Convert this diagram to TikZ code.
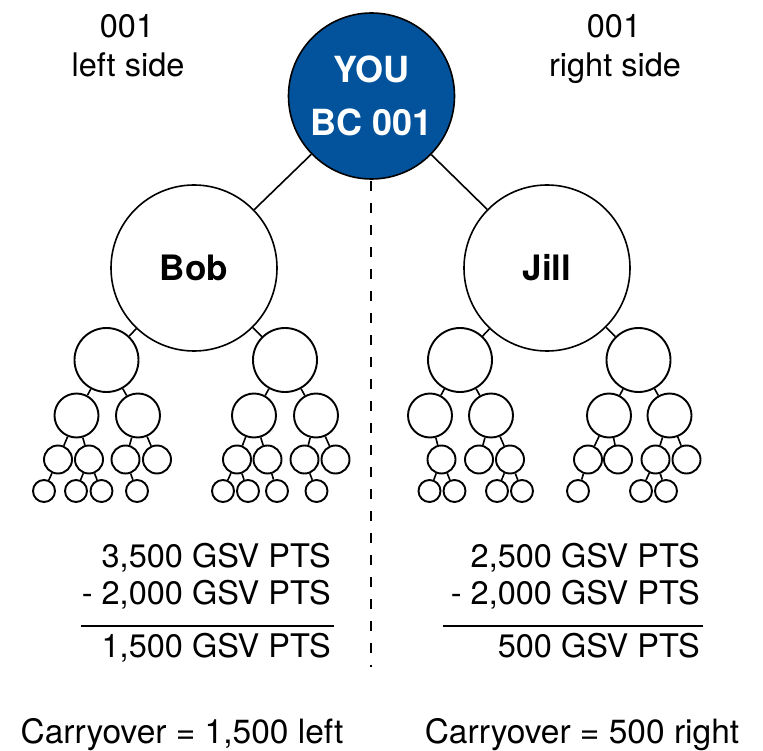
\documentclass[tikz,border=0pt]{standalone}
\usepackage{fontspec}
\setmainfont{TeX Gyre Heros}
\definecolor{youblue}{RGB}{2,83,155}
\begin{document}
\begin{tikzpicture}[x=1pt,y=-1pt,
  lbl/.style={inner sep=0pt,font=\fontsize{32.5}{36}\selectfont},
  big/.style={circle,draw=black,line width=1.6pt,minimum size=166pt,inner sep=0pt,fill=white,font=\fontsize{35}{40}\selectfont\bfseries},
  youc/.style={big,fill=youblue,text=white,align=center,font=\fontsize{36}{53}\selectfont\bfseries},
  c2/.style={circle,draw=black,line width=1.9pt,minimum size=64pt,inner sep=0pt},
  c3/.style={circle,draw=black,line width=1.9pt,minimum size=44pt,inner sep=0pt},
  c4/.style={circle,draw=black,line width=1.9pt,minimum size=28pt,inner sep=0pt},
  c5/.style={circle,draw=black,line width=1.9pt,minimum size=22pt,inner sep=0pt},
  link/.style={line width=1.6pt},
  sep/.style={line width=1.8pt,dash pattern=on 10pt off 12pt},
  rule/.style={line width=1.4pt}]
\useasboundingbox (0,0) rectangle (763,751);

% top labels
\node[lbl,anchor=base] (l001) at (127,38) {001};
\node[lbl,anchor=base] (lside) at (128,77) {left side};
\node[lbl,anchor=base] (r001) at (614,38) {001};
\node[lbl,anchor=base] (rside) at (615,77) {right side};

% main circles
\node[youc] (you) at (371.5,96) {YOU\\BC 001};
\node[big] (bob) at (194,268) {Bob};
\node[big] (jill) at (547,268) {Jill};

% level 2
\foreach \n/\x in {a1/106.5,a2/285,b1/460,b2/638.5}
  \node[c2] (\n) at (\x,360) {};
% level 3
\foreach \n/\x in {a11/76.5,a12/138,a21/254,a22/316,b11/430,b12/491,b21/609,b22/669.5}
  \node[c3] (\n) at (\x,415.5) {};
% level 4
\foreach \n/\x in {a111/58,a112/89,a121/125.5,a122/157,a211/237,a212/267.5,a221/304.5,a222/335.5,
                   b111/441.5,b121/479,b122/510,b211/588,b212/618,b221/655.5,b222/686.5}
  \node[c4] (\n) at (\x,459.5) {};
% level 5
\foreach \n/\x in {a1111/44,a1121/76,a1122/101.5,a1211/137,a2111/223,a2112/248,a2121/277,a2211/316.5,
                   b1111/429.5,b1112/454.5,b1221/497,b1222/522,b2111/578,b2211/641,b2212/666}
  \node[c5] (\n) at (\x,491) {};

% connectors
\foreach \p/\c in {you/bob,you/jill,bob/a1,bob/a2,jill/b1,jill/b2,
  a1/a11,a1/a12,a2/a21,a2/a22,b1/b11,b1/b12,b2/b21,b2/b22,
  a11/a111,a11/a112,a12/a121,a12/a122,a21/a211,a21/a212,a22/a221,a22/a222,
  b11/b111,b12/b121,b12/b122,b21/b211,b21/b212,b22/b221,b22/b222,
  a111/a1111,a112/a1121,a112/a1122,a121/a1211,a211/a2111,a211/a2112,a212/a2121,a221/a2211,
  b111/b1111,b111/b1112,b122/b1221,b122/b1222,b211/b2111,b221/b2211,b221/b2212}
  \draw[link] (\p) -- (\c);

% separator
\coordinate (dtop) at (371,181);
\coordinate (dbot) at (371,667);
\draw[sep] (dtop) -- (dbot);

% left sums
\node[lbl,anchor=base east] (la) at (331,567) {3,500 GSV PTS};
\node[lbl,anchor=base east] (lb) at (331,604.5) {- 2,000 GSV PTS};
\coordinate (lr1) at (81,626);
\coordinate (lr2) at (334,626);
\draw[rule] (lr1) -- (lr2);
\node[lbl,anchor=base east] (lc) at (331,657) {1,500 GSV PTS};

% right sums
\node[lbl,anchor=base east] (ra) at (700,567) {2,500 GSV PTS};
\node[lbl,anchor=base east] (rb) at (700,604.5) {- 2,000 GSV PTS};
\coordinate (rr1) at (443,626);
\coordinate (rr2) at (703,626);
\draw[rule] (rr1) -- (rr2);
\node[lbl,anchor=base east] (rc) at (700,657) {500 GSV PTS};

% carryover
\node[lbl,anchor=base,font=\fontsize{33.5}{36}\selectfont] (lco) at (182,743) {Carryover = 1,500 left};
\node[lbl,anchor=base,font=\fontsize{33.5}{36}\selectfont] (rco) at (582,743) {Carryover = 500 right};
\end{tikzpicture}
\end{document}
